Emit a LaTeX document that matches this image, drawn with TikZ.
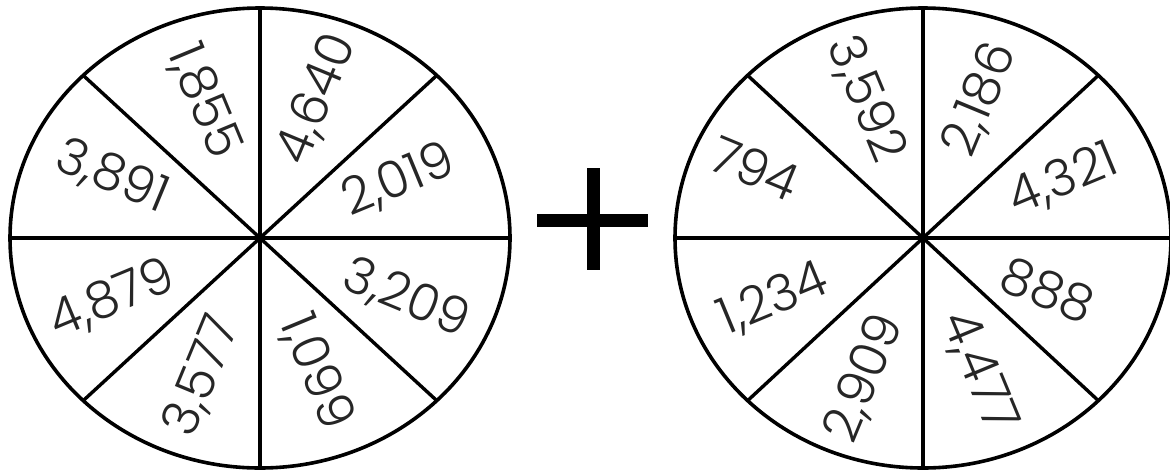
\documentclass[tikz,border=0pt]{standalone}
\usepackage{fontspec}
\setmainfont{Poppins Light}
\usetikzlibrary{calc}

\begin{document}
\begin{tikzpicture}[
  x=0.1mm, y=0.1mm,
  rim/.style={draw=black, line width=0.36mm},
  spoke/.style={draw=black, line width=0.34mm},
  num/.style={font=\fontsize{14.5}{15}\selectfont, text=black!85, inner sep=0pt},
  hub/.style={circle, fill=black, inner sep=0pt, minimum size=0.9mm}
]
  \useasboundingbox (0,0) rectangle (1170,472);

  % left wheel
  \coordinate (lc) at (260,234);
  \draw[rim] (lc) ellipse [x radius=250, y radius=230];
  \begin{scope}[shift={(lc)}]
    \foreach \a in {0,45,90,135}
      \draw[spoke] (\a:250 and 230) -- (\a+180:250 and 230);
    \foreach \a/\r/\rot/\txt/\name in {22.5/150/22.5/{2,019}/la,
        67.5/150/67.5/{4,640}/lb, 112.5/148/-67.5/{1,855}/lc1,
        157.5/160/-22.5/{3,891}/ld, 202.5/160/22.5/{4,879}/le,
        247.5/150/67.5/{3,577}/lf, 292.5/145/-67.5/{1,099}/lg,
        337.5/158/-22.5/{3,209}/lh}
      \node[num, rotate=\rot] (\name) at (\a:\r) {\txt};
  \end{scope}
  \node[hub] (lhub) at (lc) {};

  % plus
  \draw[line width=1.3mm] (537,252) -- (648,252);
  \draw[line width=1.3mm] (593,304) -- (593,202);

  % right wheel
  \coordinate (rc) at (923,234);
  \draw[rim] (rc) ellipse [x radius=248, y radius=230];
  \begin{scope}[shift={(rc)}]
    \foreach \a in {0,45,90,135}
      \draw[spoke] (\a:248 and 230) -- (\a+180:248 and 230);
    \foreach \a/\r/\rot/\txt/\name in {22.5/152/22.5/{4,321}/ra,
        67.5/150/67.5/{2,186}/rb, 112.5/150/-67.5/{3,592}/rc1,
        157.5/182/-22.5/{794}/rd, 202.5/162/22.5/{1,234}/re,
        247.5/152/67.5/{2,909}/rf, 292.5/145/-67.5/{4,477}/rg,
        337.5/135/-22.5/{888}/rh}
      \node[num, rotate=\rot] (\name) at (\a:\r) {\txt};
  \end{scope}
  \node[hub] (rhub) at (rc) {};
\end{tikzpicture}
\end{document}
